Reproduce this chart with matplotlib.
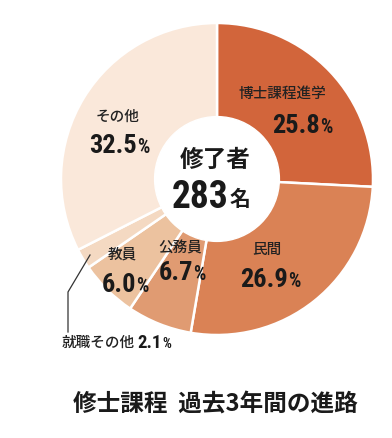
import matplotlib.pyplot as plt

plt.rcParams['font.family'] = ['Noto Sans CJK JP', 'DejaVu Sans']

# ====== DATA ======
labels = ["博士課程進学", "民間", "公務員", "教員", "就職その他", "その他"]
shares = [25.8, 26.9, 6.7, 6.0, 2.1, 32.5]
colors = ["#D2653B", "#DA8255", "#E09B72", "#ECC29F", "#F4D9C2", "#FAE8DA"]
total = 283
title = "修士課程  過去3年間の進路"
# ==================

fig = plt.figure(figsize=(3.92, 4.38), dpi=100)
ax = fig.add_axes([61 / 392, (438 - 335) / 438, 312 / 392, 312 / 438])

ax.pie(shares, colors=colors, startangle=90, counterclock=False, radius=1,
       wedgeprops=dict(edgecolor="white", linewidth=1.8))
ax.add_patch(plt.Circle((0, 0), 0.40, color="white", zorder=3))
ax.set_xlim(-1, 1)
ax.set_ylim(-1, 1)
ax.axis("off")

num_fams = ["Noto Sans Condensed", "DejaVu Sans Condensed", "Liberation Sans Narrow",
            "Roboto Condensed", "Noto Sans CJK JP"]
pct_font = dict(family=num_fams, fontstretch="condensed", fontweight="bold", color="#1a1a1a")
name_font = dict(fontweight="medium", color="#222222")


def px(x, y):
    return (x - 217) / 156, (179 - y) / 156


def pct(x, y, val, size, **kw):
    # number centred at x, baseline at y (pixels), % sign attached to its right
    t = ax.text(*px(x, y), f"{val:.1f}", ha="center", va="baseline", fontsize=size,
                zorder=5, **pct_font, **kw)
    ax.annotate("%", xy=(1, 0.04), xycoords=t, xytext=(0, 0), textcoords="offset points",
                ha="left", va="bottom", fontsize=size * 0.74, zorder=5, **pct_font, **kw)


# label positions in pixels: name centre, number centre/baseline
spots = [((282, 94), (296, 133)),
         ((267, 250), (264, 287)),
         ((180, 248), (176, 280)),
         ((122, 255), (119, 292)),
         None,
         ((118, 117), (113, 153))]

for lab, val, spot in zip(labels, shares, spots):
    if spot is None:
        continue
    (nx, ny), (vx, vy) = spot
    ax.text(*px(nx, ny), lab, ha="center", va="center", fontsize=10.5, zorder=5, **name_font)
    pct(vx, vy, val, 19)

# small slice label with leader line
ax.plot(*zip(px(90, 255), px(68, 292), px(68, 332)), color="#333333", lw=0.9,
        clip_on=False, zorder=5)
ax.text(*px(62, 343), labels[4], ha="left", va="center", fontsize=10.5, zorder=5,
        clip_on=False, **name_font)
pct(150, 348, shares[4], 13.5, clip_on=False)

# centre
ax.text(*px(200, 208), str(total), ha="center", va="baseline", fontsize=27, zorder=5, **pct_font)
ax.text(*px(215, 160), "修了者", ha="center", va="center", fontsize=17,
        fontweight="bold", color="#1a1a1a", zorder=5)
ax.text(*px(240, 199), "名", ha="center", va="center", fontsize=15,
        fontweight="bold", color="#1a1a1a", zorder=5)

fig.text(215 / 392, 1 - 405 / 438, title, ha="center", va="center", fontsize=17,
         fontweight="bold", color="#1a1a1a")

fig.savefig("out.png", dpi=100)
